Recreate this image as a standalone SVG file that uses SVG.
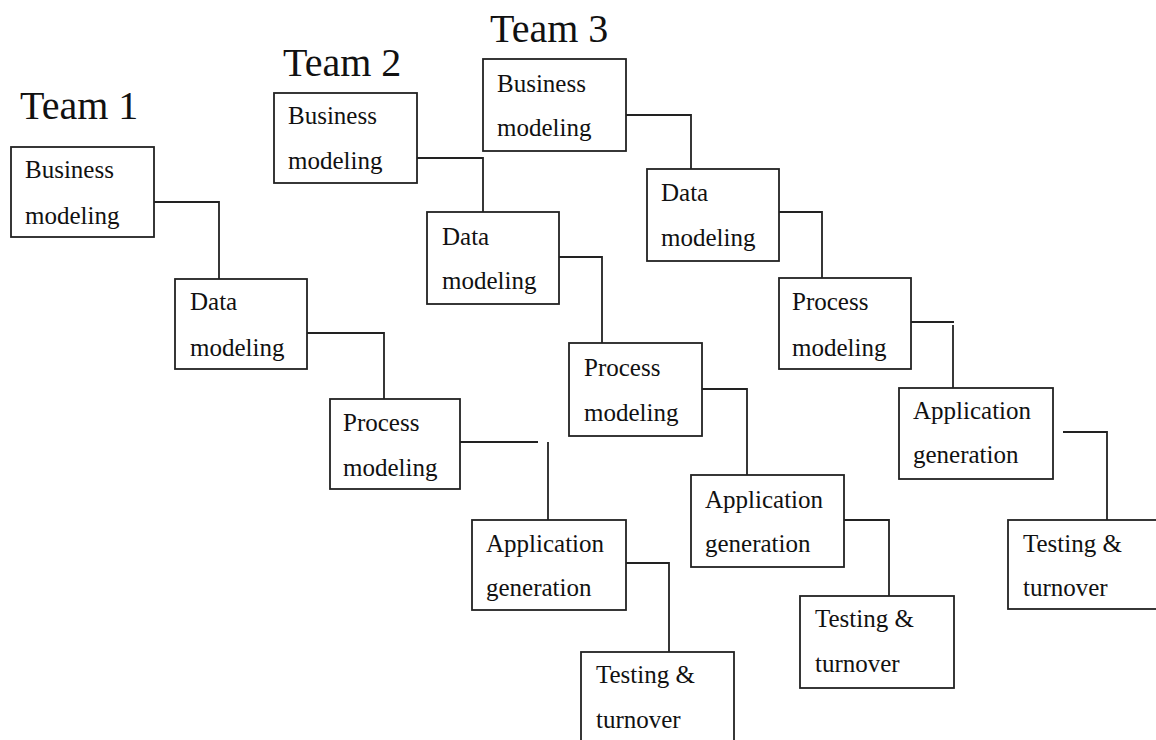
<svg xmlns="http://www.w3.org/2000/svg" width="1156" height="740" viewBox="0 0 1156 740">
<style>
.box{fill:#fff;stroke:#222;stroke-width:1.8}
.t{font-family:"Liberation Serif","Times New Roman",serif;font-size:25px;fill:#111}
.title{font-family:"Liberation Serif","Times New Roman",serif;font-size:40px;fill:#111}
.c{fill:none;stroke:#222;stroke-width:1.8}
</style>
<rect width="1156" height="740" fill="#fff"/>
<g id="titles">
<text class="title" x="20" y="119">Team 1</text>
<text class="title" x="283" y="76">Team 2</text>
<text class="title" x="490" y="42">Team 3</text>
</g>
<g id="connectors">
<polyline class="c" points="154,202 219,202 219,279"/>
<polyline class="c" points="307,333 384,333 384,410"/>
<polyline class="c" points="460,442 538,442"/>
<polyline class="c" points="548,442 548,520"/>
<polyline class="c" points="626,563 669,563 669,652"/>
<polyline class="c" points="417,158 483,158 483,212"/>
<polyline class="c" points="559,257 602,257 602,343"/>
<polyline class="c" points="702,389 747,389 747,475"/>
<polyline class="c" points="844,520 889,520 889,596"/>
<polyline class="c" points="626,115 691,115 691,169"/>
<polyline class="c" points="779,212 822,212 822,278"/>
<polyline class="c" points="911,322 954,322"/>
<polyline class="c" points="953,325 953,390"/>
<polyline class="c" points="1063,432 1107,432 1107,520"/>
</g>
<g id="t1-business"><rect class="box" x="11" y="147" width="143" height="90"/><text class="t" x="25" y="178">Business</text><text class="t" x="25" y="224">modeling</text></g>
<g id="t1-data"><rect class="box" x="175" y="279" width="132" height="90"/><text class="t" x="190" y="310">Data</text><text class="t" x="190" y="356">modeling</text></g>
<g id="t1-process"><rect class="box" x="330" y="399" width="130" height="90"/><text class="t" x="343" y="431">Process</text><text class="t" x="343" y="476">modeling</text></g>
<g id="t1-app"><rect class="box" x="472" y="520" width="154" height="90"/><text class="t" x="486" y="552">Application</text><text class="t" x="486" y="596">generation</text></g>
<g id="t1-testing"><rect class="box" x="581" y="652" width="153" height="100"/><text class="t" x="596" y="683">Testing &amp;</text><text class="t" x="596" y="728">turnover</text></g>
<g id="t2-business"><rect class="box" x="274" y="93" width="143" height="90"/><text class="t" x="288" y="124">Business</text><text class="t" x="288" y="169">modeling</text></g>
<g id="t2-data"><rect class="box" x="427" y="212" width="132" height="92"/><text class="t" x="442" y="245">Data</text><text class="t" x="442" y="289">modeling</text></g>
<g id="t2-process"><rect class="box" x="569" y="343" width="133" height="93"/><text class="t" x="584" y="376">Process</text><text class="t" x="584" y="421">modeling</text></g>
<g id="t2-app"><rect class="box" x="691" y="475" width="153" height="92"/><text class="t" x="705" y="508">Application</text><text class="t" x="705" y="552">generation</text></g>
<g id="t2-testing"><rect class="box" x="800" y="596" width="154" height="92"/><text class="t" x="815" y="627">Testing &amp;</text><text class="t" x="815" y="672">turnover</text></g>
<g id="t3-business"><rect class="box" x="483" y="59" width="143" height="92"/><text class="t" x="497" y="92">Business</text><text class="t" x="497" y="136">modeling</text></g>
<g id="t3-data"><rect class="box" x="647" y="169" width="132" height="92"/><text class="t" x="661" y="201">Data</text><text class="t" x="661" y="246">modeling</text></g>
<g id="t3-process"><rect class="box" x="779" y="278" width="132" height="91"/><text class="t" x="792" y="310">Process</text><text class="t" x="792" y="356">modeling</text></g>
<g id="t3-app"><rect class="box" x="899" y="388" width="154" height="91"/><text class="t" x="913" y="419">Application</text><text class="t" x="913" y="463">generation</text></g>
<g id="t3-testing"><rect class="box" x="1008" y="520" width="160" height="89"/><text class="t" x="1023" y="552">Testing &amp;</text><text class="t" x="1023" y="596">turnover</text></g>
</svg>
